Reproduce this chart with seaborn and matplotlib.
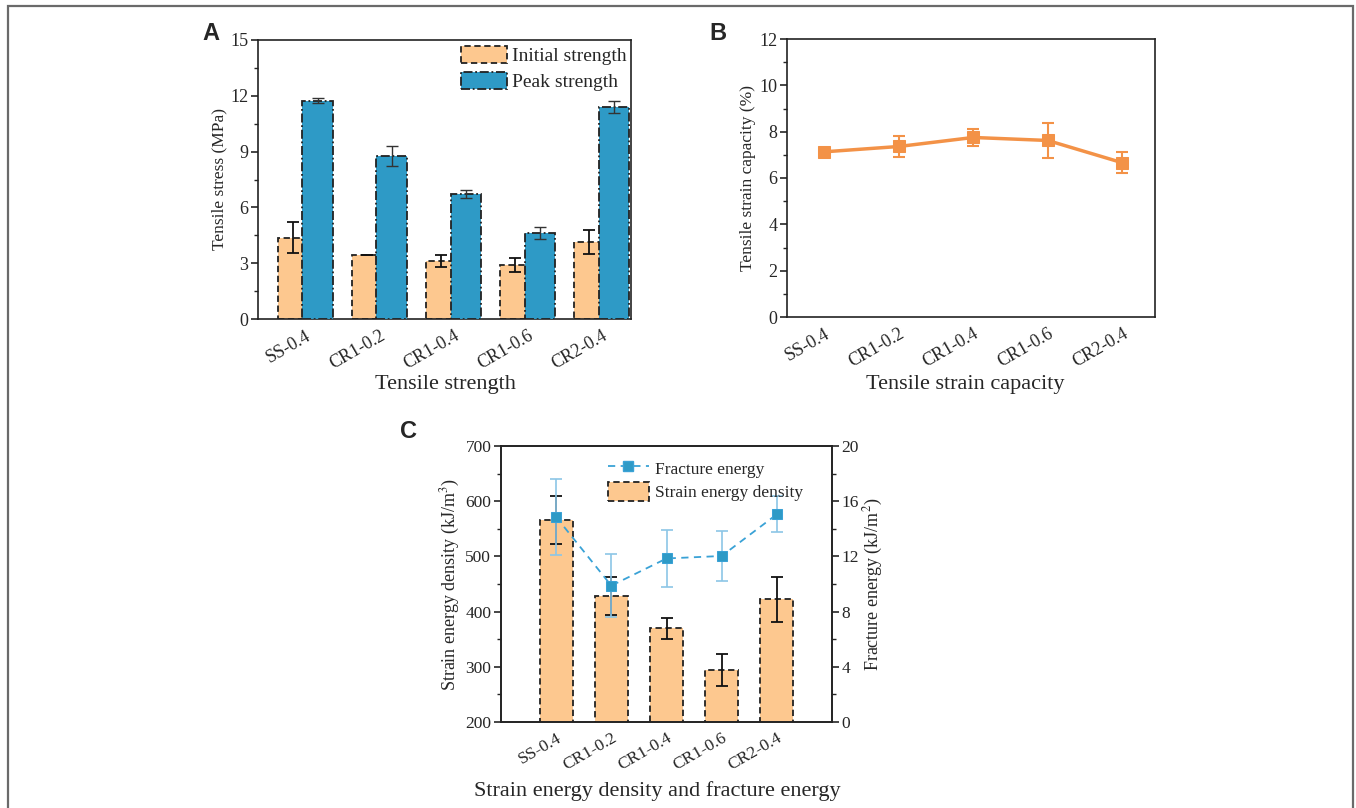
import numpy as np
import pandas as pd
import matplotlib
matplotlib.use("Agg")
import matplotlib.pyplot as plt
import matplotlib.patches as mpatches
import matplotlib.lines as mlines
from matplotlib.ticker import MultipleLocator
import seaborn as sns

# ---------------- data ----------------
samples = ["SS-0.4", "CR1-0.2", "CR1-0.4", "CR1-0.6", "CR2-0.4"]

initial_strength = [4.38, 3.42, 3.10, 2.90, 4.15]
initial_err = [0.83, 0.0, 0.33, 0.37, 0.65]
peak_strength = [11.74, 8.76, 6.72, 4.61, 11.39]
peak_err = [0.12, 0.53, 0.23, 0.31, 0.33]

strain_capacity = [7.13, 7.36, 7.75, 7.62, 6.66]
strain_err = [0.15, 0.46, 0.36, 0.77, 0.45]

sed = [566, 428, 370, 295, 422]
sed_err = [44, 35, 19, 29, 41]
fracture = [14.85, 9.88, 11.85, 12.03, 15.05]
fracture_err = [2.75, 2.3, 2.05, 1.8, 1.3]

# ---------------- style ----------------
sns.set_theme(style="ticks")
plt.rcParams["font.family"] = ["Liberation Serif", "DejaVu Serif"]
plt.rcParams["mathtext.fontset"] = "stix"
plt.rcParams["axes.linewidth"] = 1.2
plt.rcParams["xtick.major.width"] = 1.2
plt.rcParams["ytick.major.width"] = 1.2
plt.rcParams["ytick.minor.width"] = 1.0
plt.rcParams["ytick.major.size"] = 5
plt.rcParams["ytick.minor.size"] = 3
plt.rcParams["axes.edgecolor"] = "#222222"

ORANGE = "#FDC88F"
BLUE = "#2E9AC6"
LINE_OR = "#F39247"
LINE_BL = "#3AA2D6"
TICK_AB = 13
TICK_C = 12.5
LAB_FS = 12.5
SUB_FS = 16

W, H = 1356, 808
fig = plt.figure(figsize=(W / 100, H / 100), dpi=100)


def fr(x0, x1, ytop, ybot):
    return [x0 / W, 1 - ybot / H, (x1 - x0) / W, (ybot - ytop) / H]


x = np.arange(len(samples))

# ---------------- Panel A ----------------
axA = fig.add_axes(fr(258, 631, 40, 319))
off, bw = 0.166, 0.41
dfA1 = pd.DataFrame({"pos": x - off, "val": initial_strength})
dfA2 = pd.DataFrame({"pos": x + off, "val": peak_strength})
sns.barplot(data=dfA1, x="pos", y="val", native_scale=True, width=bw,
            color=ORANGE, saturation=1, errorbar=None, ax=axA,
            edgecolor="#222222", linewidth=1.3, linestyle=(0, (3.5, 2)), zorder=2)
sns.barplot(data=dfA2, x="pos", y="val", native_scale=True, width=bw,
            color=BLUE, saturation=1, errorbar=None, ax=axA,
            edgecolor="#222222", linewidth=1.3, linestyle=(0, (5, 1.5, 1, 1.5)), zorder=3)
axA.errorbar(x - off, initial_strength, yerr=initial_err, fmt="none",
             ecolor="#111111", elinewidth=1.3, capsize=4, capthick=1.3, zorder=4)
axA.errorbar(x + off, peak_strength, yerr=peak_err, fmt="none",
             ecolor="#333333", elinewidth=1.0, capsize=4, capthick=1.0, zorder=4)
axA.set_xlim(-0.637, 4.395)
axA.set_ylim(0, 15)
axA.yaxis.set_major_locator(MultipleLocator(3))
axA.yaxis.set_minor_locator(MultipleLocator(1.5))
axA.set_xticks(x)
axA.set_xticklabels(samples, rotation=30, ha="right", rotation_mode="anchor",
                    fontsize=TICK_AB)
axA.tick_params(axis="x", length=0, pad=6)
axA.tick_params(axis="y", labelsize=TICK_AB, direction="out", pad=2)
axA.set_xlabel("")
axA.set_ylabel("Tensile stress (MPa)", fontsize=LAB_FS, labelpad=2)
hA = [mpatches.Patch(facecolor=ORANGE, edgecolor="#222222", linestyle=(0, (3.5, 2)),
                     linewidth=1.3, label="Initial strength"),
      mpatches.Patch(facecolor=BLUE, edgecolor="#222222", linestyle=(0, (5, 1.5, 1, 1.5)),
                     linewidth=1.3, label="Peak strength")]
axA.legend(handles=hA, loc="upper right", bbox_to_anchor=(1.025, 1.028), frameon=False,
           fontsize=14, handlelength=2.4, handleheight=1.0, handletextpad=0.25,
           labelspacing=0.35, borderaxespad=0.3)

# ---------------- Panel B ----------------
axB = fig.add_axes(fr(787, 1155, 39, 317))
sns.lineplot(x=x, y=strain_capacity, ax=axB, color=LINE_OR, linewidth=2.5,
             marker="s", markersize=9, markeredgecolor=LINE_OR, zorder=3)
axB.errorbar(x, strain_capacity, yerr=strain_err, fmt="none", ecolor=LINE_OR,
             elinewidth=1.5, capsize=4.5, capthick=1.5, zorder=2)
axB.set_xlim(-0.50, 4.44)
axB.set_ylim(0, 12)
axB.yaxis.set_major_locator(MultipleLocator(2))
axB.yaxis.set_minor_locator(MultipleLocator(1))
axB.set_xticks(x)
axB.set_xticklabels(samples, rotation=30, ha="right", rotation_mode="anchor",
                    fontsize=TICK_AB)
axB.tick_params(axis="x", length=0, pad=6)
axB.tick_params(axis="y", labelsize=TICK_AB, direction="out", pad=2)
axB.set_ylabel("Tensile strain capacity (%)", fontsize=LAB_FS, labelpad=2)

# ---------------- Panel C ----------------
axC = fig.add_axes(fr(501, 832, 446, 722))
sns.barplot(x=samples, y=sed, ax=axC, color=ORANGE, saturation=1, errorbar=None,
            width=0.6, edgecolor="#222222", linewidth=1.3, linestyle=(0, (3.5, 2)),
            zorder=2)
axC.errorbar(x, sed, yerr=sed_err, fmt="none", ecolor="#111111", elinewidth=1.3,
             capsize=4, capthick=1.3, zorder=4)
axC.set_xlim(-1.0, 5.0)
axC.set_ylim(200, 700)
axC.yaxis.set_major_locator(MultipleLocator(100))
axC.yaxis.set_minor_locator(MultipleLocator(50))
axC.set_xticks(x)
axC.set_xticklabels(samples, rotation=30, ha="right", rotation_mode="anchor",
                    fontsize=TICK_C)
axC.tick_params(axis="x", length=0, pad=6)
axC.tick_params(axis="y", labelsize=TICK_C, direction="out", pad=2)
axC.set_xlabel("")
axC.set_ylabel("Strain energy density (kJ/m$^3$)", fontsize=13, labelpad=2)

axC2 = axC.twinx()
sns.lineplot(x=x, y=fracture, ax=axC2, color=LINE_BL, linewidth=1.3,
             linestyle=(0, (4, 3)), marker="s", markersize=6.5,
             markeredgecolor=LINE_BL, markerfacecolor=BLUE, zorder=5)
axC2.errorbar(x, fracture, yerr=fracture_err, fmt="none", ecolor="#8CC6E6",
              elinewidth=1.2, capsize=4, capthick=1.2, zorder=3)
axC2.set_ylim(0, 20)
axC2.yaxis.set_major_locator(MultipleLocator(4))
axC2.yaxis.set_minor_locator(MultipleLocator(2))
axC2.tick_params(axis="y", labelsize=TICK_C, direction="out", which="both", pad=2)
axC2.tick_params(axis="y", which="major", length=5, width=1.2)
axC2.tick_params(axis="y", which="minor", length=3, width=1.0)
axC2.set_ylabel("Fracture energy (kJ/m$^2$)", fontsize=13, labelpad=2)
axC2.set_xlim(-1.0, 5.0)
hC = [mlines.Line2D([], [], color=LINE_BL, linestyle=(0, (4, 3)), linewidth=1.3,
                    marker="s", markersize=6.5, markerfacecolor=BLUE,
                    label="Fracture energy"),
      mpatches.Patch(facecolor=ORANGE, edgecolor="#222222", linestyle=(0, (3.5, 2)),
                     linewidth=1.3, label="Strain energy density")]
axC2.legend(handles=hC, loc="upper left", bbox_to_anchor=(0.275, 1.012), frameon=False,
            fontsize=12.5, handlelength=2.4, handleheight=1.3, handletextpad=0.3,
            labelspacing=0.25)

for ax in (axA, axB, axC, axC2):
    for s in ax.spines.values():
        s.set_visible(True)
        s.set_linewidth(1.2)

# ---------------- texts ----------------
fig.text(445 / W, 1 - 385 / H, "Tensile strength", ha="center", va="center", fontsize=SUB_FS)
fig.text(965 / W, 1 - 385 / H, "Tensile strain capacity", ha="center", va="center",
         fontsize=SUB_FS)
fig.text(657 / W, 1 - 791 / H, "Strain energy density and fracture energy", ha="center",
         va="center", fontsize=SUB_FS)
for lab, px, py in (("A", 211, 33), ("B", 718, 33), ("C", 408, 432)):
    fig.text(px / W, 1 - py / H, lab, ha="center", va="center", fontsize=17,
             fontweight="bold", family=["Liberation Sans", "DejaVu Sans"])

# figure frame
frame = mpatches.Rectangle((8 / W, -0.05), (1353 - 8) / W, 1.05 - 6 / H,
                           transform=fig.transFigure, fill=False, edgecolor="#6a6a6a",
                           linewidth=1.6, clip_on=False)
fig.patches.append(frame)

fig.savefig("out.png", dpi=100)
